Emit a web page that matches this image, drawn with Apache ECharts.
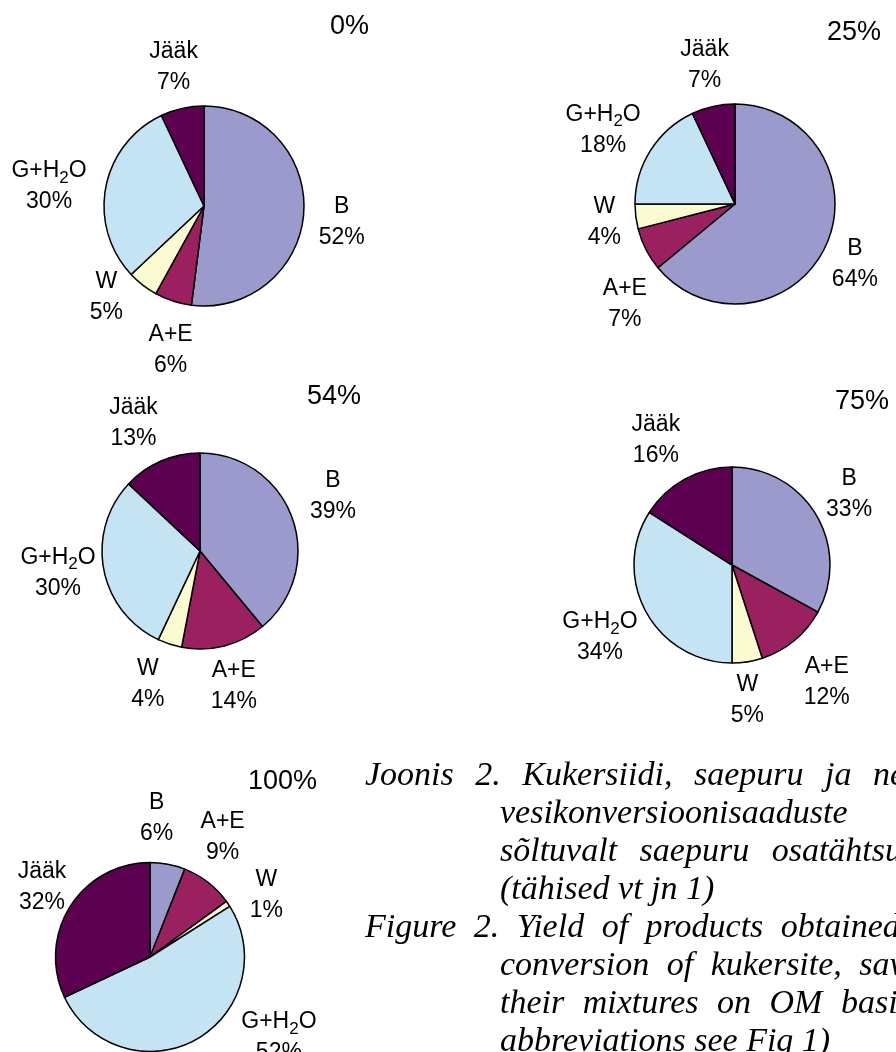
<!DOCTYPE html>
<html>
<head>
<meta charset="utf-8">
<script src="https://cdn.jsdelivr.net/npm/echarts@6/dist/echarts.min.js"></script>
<style>
  html, body { margin: 0; padding: 0; background: #fff; }
  #chart { width: 896px; height: 1052px; }
</style>
</head>
<body>
<div id="chart"></div>
<script>
// Product groups, in drawing order (clockwise from 12 o'clock)
const categories = ['B', 'A+E', 'W', 'G+H2O', 'Jääk'];
// Sawdust share in the feed, one pie per share
const sawdustShares = ['0%', '25%', '54%', '75%', '100%'];
// Product yields, % of organic matter
const yield0 = [52, 6, 5, 30, 7];
const yield25 = [64, 7, 4, 18, 7];
const yield54 = [39, 14, 4, 30, 13];
const yield75 = [33, 12, 5, 34, 16];
const yield100 = [6, 9, 1, 52, 32];

const yields = [yield0, yield25, yield54, yield75, yield100];
const colors = ['#9a9acc', '#9b2060', '#fbfbd2', '#c5e4f3', '#5c004f'];

// Pie placement on the page
const pies = [
  { center: [204, 206], r: 100, title: [330, 27] },
  { center: [735, 204], r: 100, title: [827, 33] },
  { center: [200, 551], r: 98, title: [307, 397] },
  { center: [732, 565], r: 98, title: [835, 402] },
  { center: [150, 957], r: 94.5, title: [248, 782] }
];
// Small shifts for labels that would otherwise crowd a neighbour
const labelNudge = {
  '0-0': [0, 7],
  '0-1': [9, 9],
  '0-2': [-17, -21],
  '0-3': [-5, 7],
  '1-0': [-5, 0],
  '1-1': [12, 36],
  '1-3': [-3, 2],
  '2-0': [5, -7],
  '2-2': [-12, 0],
  '2-3': [6, -4],
  '2-4': [-12, 1],
  '3-1': [8, 9],
  '3-2': [-5, -3],
  '3-3': [0, 5],
  '3-4': [-10, -2],
  '4-0': [-17, -5],
  '4-1': [-8, -12],
  '4-2': [12, 15],
  '4-3': [58, -39],
  '4-4': [5, 3]
};
const LABEL_GAP = 15;

const labelFont = '"Liberation Sans", Arial, Helvetica, sans-serif';

function labelLayout(params) {
  const si = params.seriesIndex, di = params.dataIndex;
  const vals = yields[si];
  const total = vals.reduce((a, b) => a + b, 0);
  let before = 0;
  for (let i = 0; i < di; i++) before += vals[i];
  const mid = (before + vals[di] / 2) / total * Math.PI * 2;
  const dx = Math.sin(mid), dy = -Math.cos(mid);
  const p = pies[si];
  const w = params.labelRect.width, h = params.labelRect.height;
  const n = labelNudge[si + '-' + di] || [0, 0];
  return {
    x: p.center[0] + dx * (p.r + LABEL_GAP) + dx * w / 2 + n[0],
    y: p.center[1] + dy * (p.r + LABEL_GAP) + dy * h / 2 + n[1],
    align: 'center',
    verticalAlign: 'middle'
  };
}

const series = yields.map((vals, si) => ({
  type: 'pie',
  center: pies[si].center,
  radius: pies[si].r,
  startAngle: 90,
  clockwise: true,
  avoidLabelOverlap: false,
  silent: true,
  animation: false,
  itemStyle: { borderColor: '#000', borderWidth: 1.5 },
  label: {
    show: true,
    position: 'outside',
    formatter: (p) => {
      const nm = p.name === 'G+H2O' ? '{t|G+H}{s|2}{t|O}' : '{t|' + p.name + '}';
      return nm + '\n{t|' + p.value + '%}';
    },
    rich: {
      t: { fontFamily: labelFont, fontSize: 23, lineHeight: 31, color: '#000' },
      s: { fontFamily: labelFont, fontSize: 17, lineHeight: 28, color: '#000', verticalAlign: 'bottom' }
    }
  },
  labelLine: { show: false },
  labelLayout: labelLayout,
  emphasis: { disabled: true },
  data: categories.map((c, i) => ({ name: c, value: vals[i], itemStyle: { color: colors[i] } }))
}));

// Share titles above each pie
const graphics = sawdustShares.map((s, i) => ({
  type: 'text',
  x: pies[i].title[0],
  y: pies[i].title[1],
  silent: true,
  style: {
    text: s,
    font: '27px ' + labelFont,
    fill: '#000',
    align: 'left',
    verticalAlign: 'middle'
  }
}));

// Figure caption, justified word by word
const captionFont = 'italic 34px "Liberation Serif", "Times New Roman", serif';
const captionLines = [
  { x: 365, words: 'Joonis 2. Kukersiidi, saepuru ja nende', extra: 13 },
  { x: 500, words: 'vesikonversioonisaaduste', extra: 0 },
  { x: 500, words: 'sõltuvalt saepuru osatähtsusest', extra: 14 },
  { x: 500, words: '(tähised vt jn 1)', extra: 0 },
  { x: 365, words: 'Figure 2. Yield of products obtained in', extra: 9 },
  { x: 500, words: 'conversion of kukersite, sawdust and', extra: 9 },
  { x: 500, words: 'their mixtures on OM basis (for', extra: 10 },
  { x: 500, words: 'abbreviations see Fig 1)', extra: 0 }
];
const CAPTION_BASE = 776;
const CAPTION_PITCH = 38;
const measureCtx = document.createElement('canvas').getContext('2d');
measureCtx.font = captionFont;
const spaceW = measureCtx.measureText(' ').width;
captionLines.forEach((ln, li) => {
  let x = ln.x;
  ln.words.split(' ').forEach((w) => {
    graphics.push({
      type: 'text',
      x: x,
      y: CAPTION_BASE + li * CAPTION_PITCH,
      silent: true,
      style: { text: w, font: captionFont, fill: '#000', align: 'left', verticalAlign: 'middle' }
    });
    x += measureCtx.measureText(w).width + spaceW + ln.extra;
  });
});

const chart = echarts.init(document.getElementById('chart'), null, { renderer: 'canvas' });
chart.setOption({
  animation: false,
  backgroundColor: '#fff',
  series: series,
  graphic: graphics
});
</script>
</body>
</html>
